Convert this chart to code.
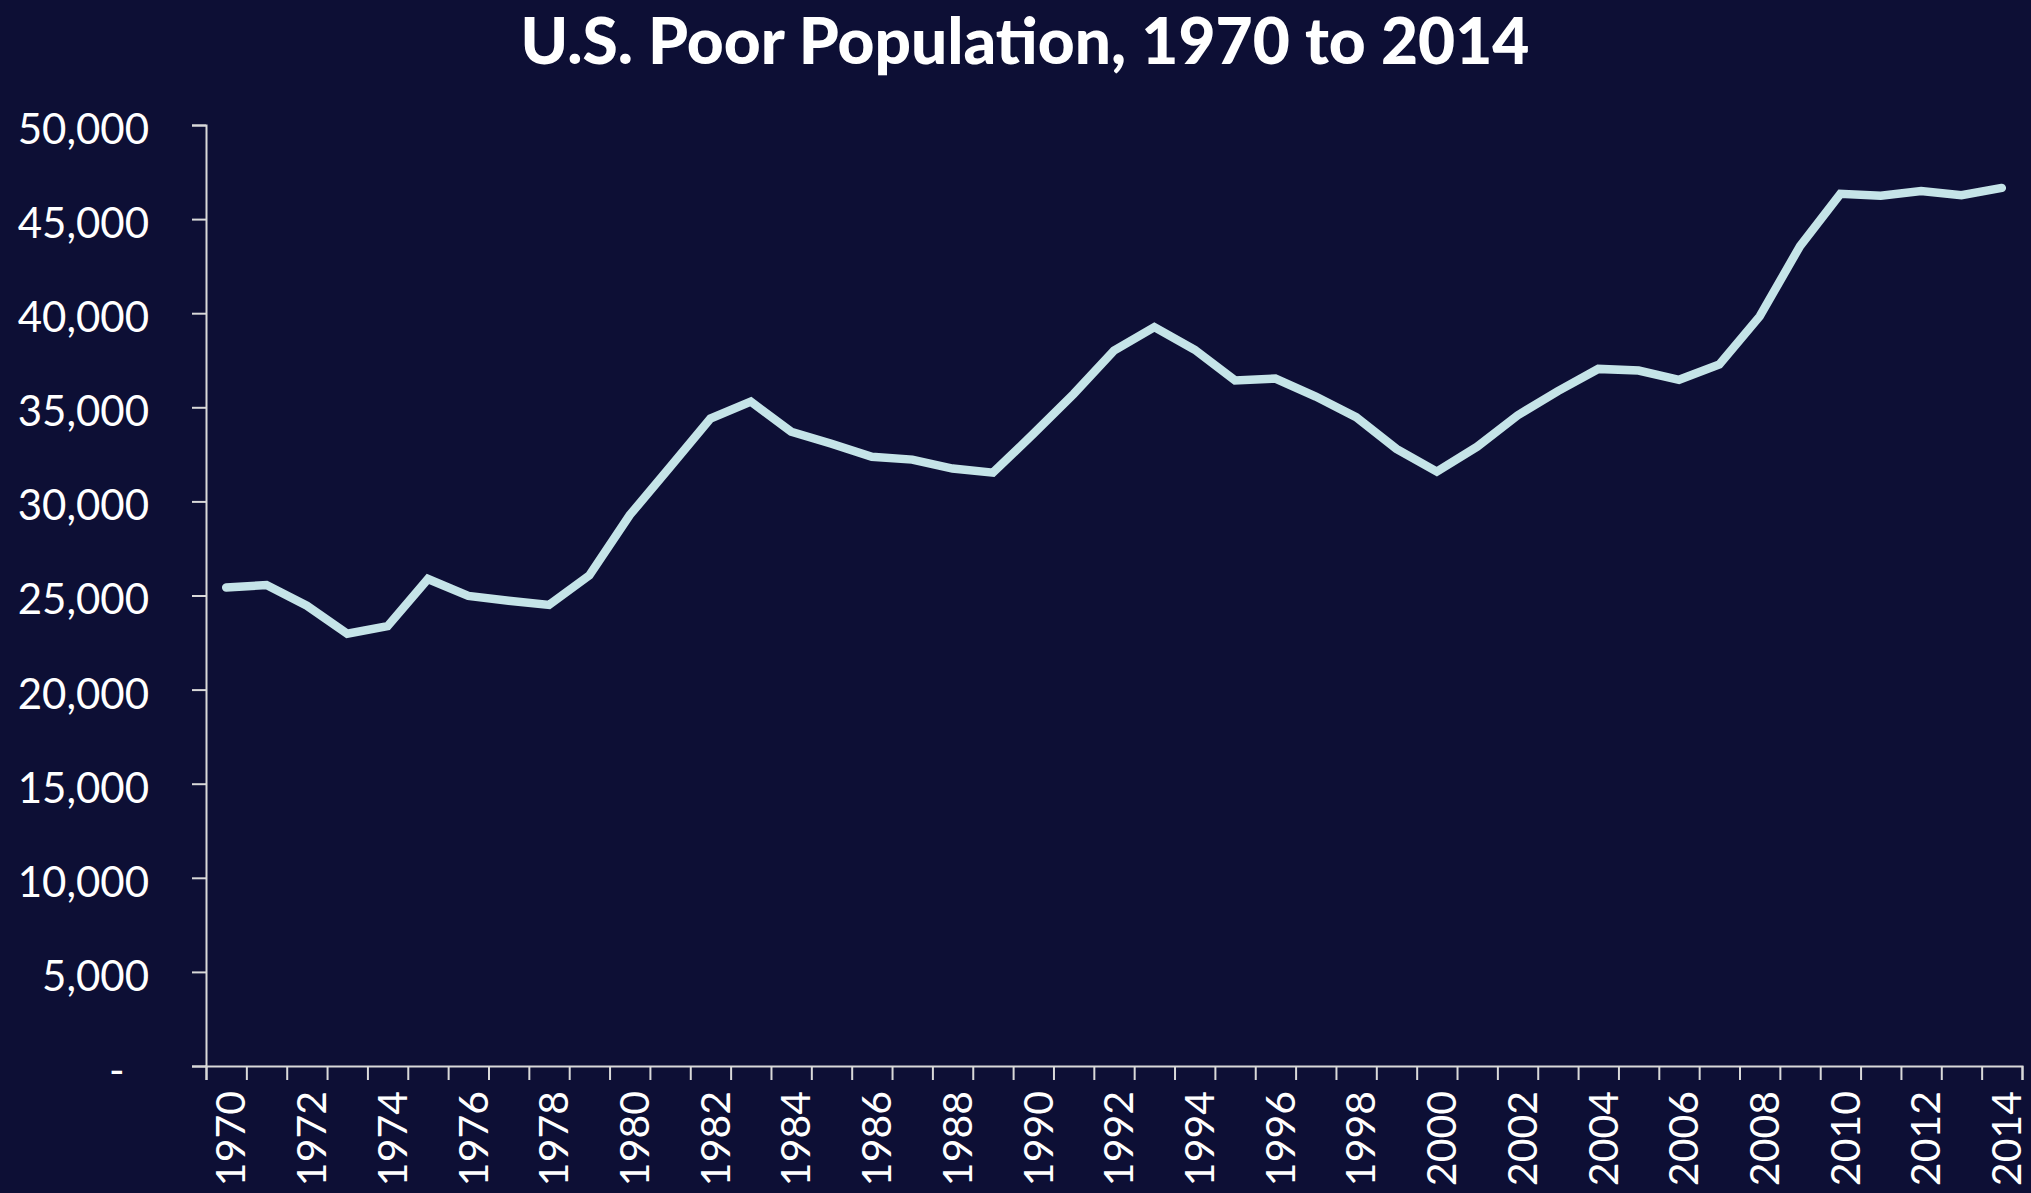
<!DOCTYPE html>
<html>
<head>
<meta charset="utf-8">
<script src="https://cdn.jsdelivr.net/npm/d3@7"></script>
<style>
  html, body { margin: 0; padding: 0; background: #0d0f35; }
  svg { display: block; }
  text { font-family: Lato, 'Open Sans', sans-serif; fill: #ffffff; }
</style>
</head>
<body>
<div id="chart"></div>
<script>
// poor population in thousands, 1970-2014
const years = d3.range(1970, 2015)
const poor = [
  25420, 25559, 24460, 22973, 23370, 25877, 24975, 24720, 24497, 26072,
  29272, 31822, 34398, 35303, 33700, 33064, 32370, 32221, 31745, 31528,
  33585, 35708, 38014, 39265, 38059, 36425, 36529, 35574, 34476, 32791,
  31581, 32907, 34570, 35861, 37040, 36950, 36460, 37276, 39829, 43569,
  46343, 46247, 46496, 46269, 46657
]
const yTicks = d3.range(0, 50001, 5000)
const xLabels = years.filter(y => y % 2 === 0)

const margin = { top: 125, left: 206, right: 9, bottom: 127 }
const width = 2031 - margin.left - margin.right
const height = 1193 - margin.top - margin.bottom

const svg = d3
  .select('#chart')
  .append('svg')
  .attr('width', 2031)
  .attr('height', 1193)

svg
  .append('rect')
  .attr('width', 2031)
  .attr('height', 1193)
  .attr('fill', '#0d0f35')

svg
  .append('text')
  .attr('x', 1025)
  .attr('y', 64)
  .attr('text-anchor', 'middle')
  .attr('font-size', 64)
  .attr('font-weight', 900)
  .text('U.S. Poor Population, 1970 to 2014')

const g = svg
  .append('g')
  .attr('transform', 'translate(' + margin.left + ',' + margin.top + ')')

const xScale = d3
  .scaleBand()
  .domain(years)
  .range([0, width])

// boundaries between the year bands, for the tick marks
const edgeScale = d3
  .scaleLinear()
  .domain([0, years.length])
  .range([0, width])

const yScale = d3
  .scaleLinear()
  .domain([0, 50000])
  .range([height, 0])

const fmt = d3.format(',')

const yAxis = d3
  .axisLeft(yScale)
  .tickValues(yTicks)
  .tickSize(14)
  .tickPadding(43)
  .tickFormat(d => (d === 0 ? '-\u2007' : fmt(d)))

g.append('g')
  .attr('class', 'y-axis')
  .call(yAxis)
  .call(sel => sel.selectAll('text').attr('font-size', 42).attr('dy', '0.44em').attr('fill', '#fff'))

const edgeAxis = d3
  .axisBottom(edgeScale)
  .tickValues(d3.range(0, years.length + 1))
  .tickSize(14)
  .tickFormat('')

g.append('g')
  .attr('class', 'x-edges')
  .attr('transform', 'translate(0,' + height + ')')
  .call(edgeAxis)

const xAxis = d3
  .axisBottom(xScale)
  .tickValues(xLabels)
  .tickSize(0)

g.append('g')
  .attr('class', 'x-axis')
  .attr('transform', 'translate(0,' + height + ')')
  .call(xAxis)
  .call(sel => sel.select('.domain').remove())
  .call(sel =>
    sel
      .selectAll('text')
      .attr('font-size', 41)
      .attr('fill', '#fff')
      .attr('text-anchor', 'end')
      .attr('transform', 'rotate(-90)')
      .attr('x', -25)
      .attr('y', 0)
      .attr('dy', '0.47em')
  )

svg.selectAll('.domain').attr('stroke', '#d9d9d9').attr('stroke-width', 2)
svg.selectAll('.tick line').attr('stroke', '#d9d9d9').attr('stroke-width', 2)

const line = d3
  .line()
  .x((d, i) => xScale(years[i]) + xScale.bandwidth() / 2)
  .y(d => yScale(d))

g.append('path')
  .datum(poor)
  .attr('d', line)
  .attr('fill', 'none')
  .attr('stroke', '#c5e4e8')
  .attr('stroke-width', 8.5)
  .attr('stroke-linejoin', 'miter')
  .attr('stroke-linecap', 'round')
</script>
</body>
</html>
